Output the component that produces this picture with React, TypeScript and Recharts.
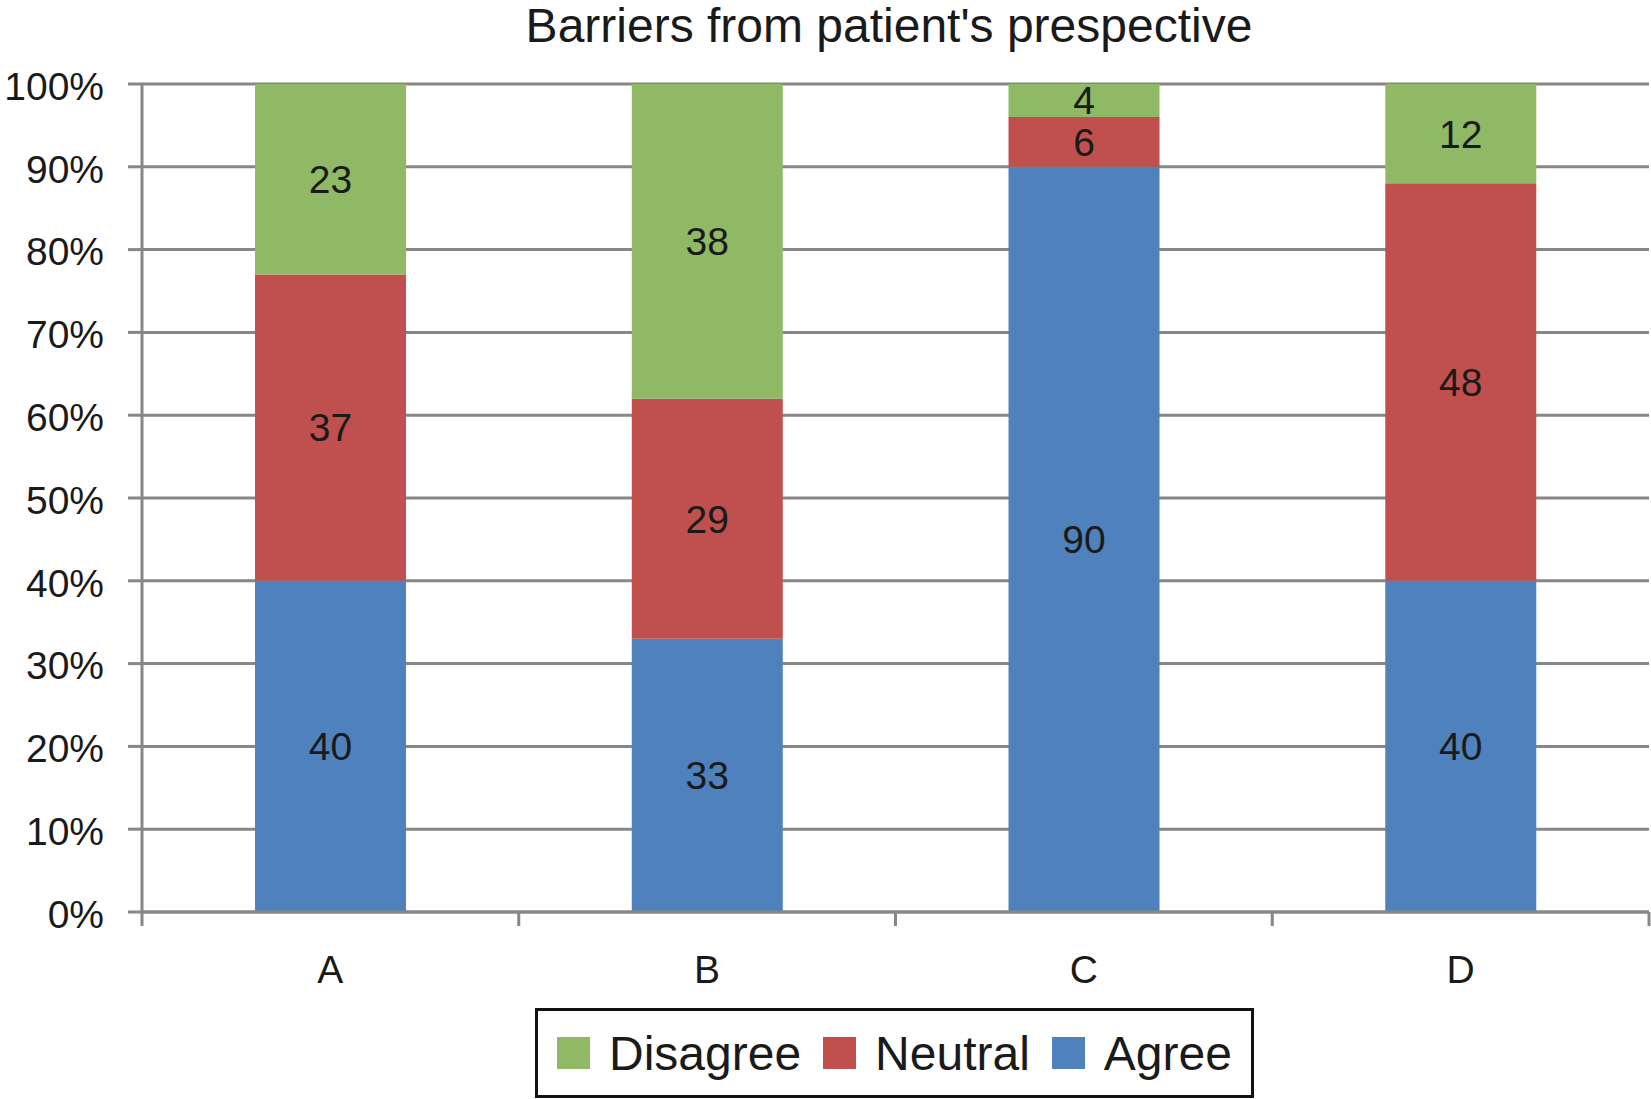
import {
  BarChart,
  Bar,
  XAxis,
  YAxis,
  CartesianGrid,
  LabelList,
  Legend,
} from "recharts";

const categories = ["A", "B", "C", "D"];
const agree = [40, 33, 90, 40];
const neutral = [37, 29, 6, 48];
const disagree = [23, 38, 4, 12];
const yTicks = [0, 10, 20, 30, 40, 50, 60, 70, 80, 90, 100];

const legendItems = [
  { label: "Disagree", color: "#8FB964" },
  { label: "Neutral", color: "#C0504D" },
  { label: "Agree", color: "#4F81BD" },
];

const data = categories.map((cat, i) => ({
  cat,
  agree: agree[i],
  neutral: neutral[i],
  disagree: disagree[i],
}));

const FONT = '"Liberation Sans", Arial, Helvetica, sans-serif';
const GRID = "#878787";
const TEXT = "#1a1a1a";

// legend drawn as a boxed row, like the Excel original
const LegendBox = () => (
  <div
    style={{
      width: 719,
      height: 90,
      boxSizing: "border-box",
      border: "3px solid #111",
      display: "flex",
      alignItems: "center",
      paddingLeft: 19,
      fontFamily: FONT,
      fontSize: 48,
      color: TEXT,
      background: "#fff",
    }}
  >
    {legendItems.map((it) => (
      <div
        key={it.label}
        style={{ display: "flex", alignItems: "center", marginRight: 22 }}
      >
        <span
          style={{
            display: "inline-block",
            width: 33,
            height: 32,
            background: it.color,
            marginRight: 19,
          }}
        />
        <span>{it.label}</span>
      </div>
    ))}
  </div>
);

// category label plus tick marks on the category boundaries (Excel style)
const CatTick = (props: any) => {
  const { x, y, payload, index, visibleTicksCount } = props;
  const half = payload?.offset || 188;
  const isLast = index === visibleTicksCount - 1;
  return (
    <g>
      <line x1={x - half} x2={x - half} y1={y} y2={y + 14} stroke={GRID} strokeWidth={3} />
      {isLast && (
        <line x1={x + half} x2={x + half} y1={y} y2={y + 14} stroke={GRID} strokeWidth={3} />
      )}
      <text
        x={x}
        y={y + 57}
        dy="0.355em"
        textAnchor="middle"
        fill={TEXT}
        fontSize={39}
        fontFamily={FONT}
      >
        {payload.value}
      </text>
    </g>
  );
};

export default function App() {
  return (
    <div style={{ position: "relative", width: 1651, height: 1099, background: "#fff" }}>
      <style>{`body{margin:0}`}</style>
      <div
        style={{
          position: "absolute",
          top: 0,
          left: 0,
          width: 1778,
          textAlign: "center",
          fontFamily: FONT,
          fontSize: 48,
          color: TEXT,
          lineHeight: "52px",
        }}
      >
        Barriers from patient's prespective
      </div>
      <BarChart
        width={1651}
        height={1099}
        data={data}
        margin={{ top: 84, right: 2, left: 0, bottom: 0 }}
        barCategoryGap="30%"
        style={{ fontFamily: FONT }}
      >
        <CartesianGrid vertical={false} stroke={GRID} strokeWidth={3} />
        <XAxis
          dataKey="cat"
          height={97}
          axisLine={{ stroke: GRID, strokeWidth: 3 }}
          tickLine={false}
          tickSize={0}
          tickMargin={0}
          tick={<CatTick />}
        />
        <YAxis
          width={142}
          domain={[0, 100]}
          ticks={yTicks}
          interval={0}
          tickFormatter={(v: number) => `${v}%`}
          axisLine={{ stroke: GRID, strokeWidth: 3 }}
          tickLine={{ stroke: GRID, strokeWidth: 3 }}
          tickSize={14}
          tickMargin={24}
          tick={{ fill: TEXT, fontSize: 39, dy: 2 }}
        />
        <Legend
          layout="vertical"
          align="center"
          verticalAlign="bottom"
          wrapperStyle={{ position: "absolute", left: 535, top: 1008, width: 719 }}
          content={() => <LegendBox />}
        />
        <Bar dataKey="agree" stackId="s" fill="#4F81BD" isAnimationActive={false}>
          <LabelList dataKey="agree" position="center" fill={TEXT} fontSize={39} />
        </Bar>
        <Bar dataKey="neutral" stackId="s" fill="#C0504D" isAnimationActive={false}>
          <LabelList dataKey="neutral" position="center" fill={TEXT} fontSize={39} />
        </Bar>
        <Bar dataKey="disagree" stackId="s" fill="#8FB964" isAnimationActive={false}>
          <LabelList dataKey="disagree" position="center" fill={TEXT} fontSize={39} />
        </Bar>
      </BarChart>
    </div>
  );
}
